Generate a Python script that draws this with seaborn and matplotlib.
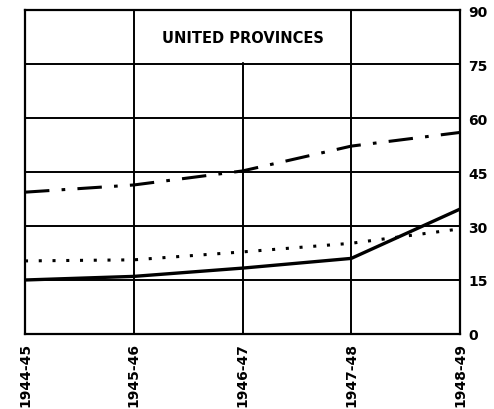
import matplotlib
matplotlib.use('Agg')
import matplotlib.pyplot as plt
import seaborn as sns
import pandas as pd

years = ['1944-45', '1945-46', '1946-47', '1947-48', '1948-49']
dash_dot_values = [39.4, 41.4, 45.3, 52.2, 56.0]
dotted_values = [20.3, 20.6, 22.8, 25.2, 29.2]
solid_values = [15.0, 16.0, 18.3, 21.0, 34.7]
y_ticks = [0, 15, 30, 45, 60, 75, 90]
y_tick_labels = ['0', '15', '30', '45', '60', '75', '90']

sns.set_style('white')
plt.rcParams['font.family'] = ['DejaVu Sans']
plt.rcParams['text.color'] = 'black'
plt.rcParams['xtick.color'] = 'black'
plt.rcParams['ytick.color'] = 'black'

df = pd.DataFrame({'x': list(range(len(years))),
                   'dash_dot': dash_dot_values,
                   'dotted': dotted_values,
                   'solid': solid_values})

fig = plt.figure(figsize=(4.94, 4.10), dpi=100)
ax = fig.add_axes([0.0506, 0.183, 0.8806, 0.790])

sns.lineplot(x='x', y='dash_dot', data=df, ax=ax, color='black', lw=2.2,
             linestyle=(0, (8, 4, 1.2, 4)))
sns.lineplot(x='x', y='dotted', data=df, ax=ax, color='black', lw=2.2,
             linestyle=(0, (1, 3.5)))
sns.lineplot(x='x', y='solid', data=df, ax=ax, color='black', lw=2.4)

ax.set_xlim(0, len(years) - 1)
ax.set_ylim(0, 90)
for v in y_ticks:
    ax.axhline(v, color='black', lw=1.4, zorder=1)
for i in range(len(years)):
    ax.axvline(i, color='black', lw=1.4, zorder=1)

for s in ax.spines.values():
    s.set_linewidth(1.6)
    s.set_color('black')

ax.set_xticks(range(len(years)))
ax.set_xticklabels(years, rotation=90, fontsize=10, fontweight='heavy')
ax.yaxis.tick_right()
ax.set_yticks(y_ticks)
ax.set_yticklabels(y_tick_labels, fontsize=10, fontweight='heavy')
ax.tick_params(length=0, pad=6)
ax.set_xlabel('')
ax.set_ylabel('')

# white panel behind the title covering the grid between 75 and 90
ax.fill_between([1.04, 2.96], 75.8, 90, color='white', zorder=2)
ax.text(2, 82.5, 'UNITED PROVINCES', ha='center', va='center', fontsize=10.5,
        fontweight='bold', color='black', zorder=3)

fig.savefig('out.png', dpi=100)
